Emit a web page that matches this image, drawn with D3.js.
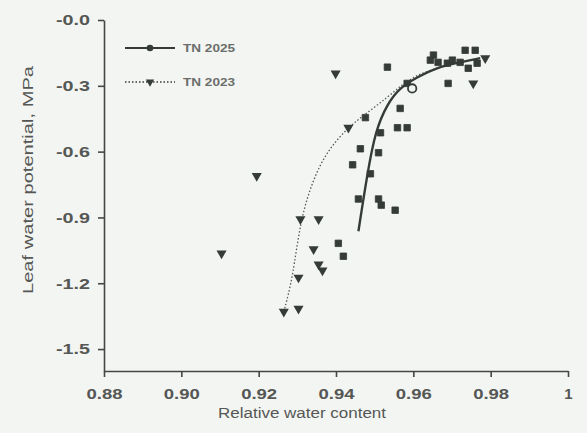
<!DOCTYPE html>
<html>
<head>
<meta charset="utf-8">
<script src="https://cdn.jsdelivr.net/npm/d3@7"></script>
<style>
  body { margin: 0; background: #f3f5f2; }
  svg { display: block; font-family: "Liberation Sans", Arial, sans-serif; }
</style>
</head>
<body>
<script>
"use strict";
// tick values and labels
const xTicks = [0.88, 0.90, 0.92, 0.94, 0.96, 0.98, 1.0]
const xTickLabels = ["0.88", "0.90", "0.92", "0.94", "0.96", "0.98", "1"]
const yTicks = [0, -0.3, -0.6, -0.9, -1.2, -1.5]
const yTickLabels = ["-0.0", "-0.3", "-0.6", "-0.9", "-1.2", "-1.5"]
const seriesNames = ["TN 2025", "TN 2023"]

// TN 2025 observations (rwc, potential)
const rwc2025 = [0.9652, 0.9664, 0.9688, 0.9701, 0.9721, 0.9734, 0.9760, 0.9742, 0.9765, 0.9644,
    0.9690, 0.9533, 0.9584, 0.9566, 0.9559, 0.9584, 0.9476, 0.9515, 0.9463, 0.9510,
    0.9443, 0.9489, 0.9458, 0.9510, 0.9517, 0.9553, 0.9406, 0.9419]
const lwp2025 = [-0.160, -0.193, -0.197, -0.183, -0.193, -0.138, -0.138, -0.220, -0.197, -0.183,
    -0.289, -0.215, -0.289, -0.403, -0.491, -0.491, -0.445, -0.514, -0.587, -0.605,
    -0.660, -0.701, -0.816, -0.816, -0.844, -0.867, -1.018, -1.077]
// open marker
const rwcOpen = [0.9597]
const lwpOpen = [-0.312]

// TN 2023 observations
const rwc2023 = [0.9399, 0.9195, 0.9104, 0.9308, 0.9355, 0.9342, 0.9355, 0.9365, 0.9303, 0.9265,
    0.9303, 0.9432, 0.9755, 0.9786]
const lwp2023 = [-0.243, -0.711, -1.064, -0.908, -0.908, -1.045, -1.114, -1.142, -1.174, -1.330,
    -1.316, -0.491, -0.289, -0.174]

// fitted curves
const fitRwc2025 = [0.9458, 0.9481, 0.9502, 0.9533, 0.9566, 0.9610, 0.9662, 0.9721, 0.9773]
const fitLwp2025 = [-0.963, -0.701, -0.504, -0.381, -0.307, -0.261, -0.215, -0.193, -0.174]
const fitRwc2023 = [0.9265, 0.9288, 0.9308, 0.9342, 0.9378, 0.9430, 0.9481, 0.9533, 0.9574, 0.9618, 0.9670, 0.9721]
const fitLwp2023 = [-1.330, -1.178, -0.908, -0.720, -0.596, -0.491, -0.422, -0.353, -0.289, -0.243, -0.215, -0.193]

const measurements = { width: 587, height: 433 }
const ink = "#353b37"
const textInk = "#555755"

const svg = d3.select("body").append("svg")
    .attr("width", measurements.width)
    .attr("height", measurements.height)

const scaleX = d3.scaleLinear().domain([0.88, 1.0]).range([104, 568])
const scaleY = d3.scaleLinear().domain([0, -1.6]).range([20, 371])

const zip = (xs, ys) => xs.map((v, i) => [v, ys[i]])

// axes
const xAxis = d3.axisBottom(scaleX)
    .tickValues(xTicks)
    .tickFormat((d, i) => xTickLabels[i])
    .tickSize(6).tickSizeOuter(0).tickPadding(11)
const yAxis = d3.axisLeft(scaleY)
    .tickValues(yTicks)
    .tickFormat((d, i) => yTickLabels[i])
    .tickSize(6).tickSizeOuter(0).tickPadding(8)

const gx = svg.append("g").attr("transform", "translate(0,371)").call(xAxis)
const gy = svg.append("g").attr("transform", "translate(104,0)").call(yAxis)
;[gx, gy].forEach(g => {
    g.selectAll("path, line").attr("stroke", "#444845").attr("stroke-width", 1.6)
    g.selectAll("text").attr("fill", textInk).attr("font-size", 15).attr("font-weight", "bold")
        .attr("font-family", "'Liberation Sans', Arial, sans-serif")
})
gx.selectAll("text").attr("textLength", function() { return this.textContent.length > 1 ? 36 : null })
    .attr("lengthAdjust", "spacingAndGlyphs")
gy.selectAll("text").attr("textLength", 34).attr("lengthAdjust", "spacingAndGlyphs")

// axis titles
svg.append("text")
    .attr("x", 302).attr("y", 418)
    .attr("text-anchor", "middle")
    .attr("font-size", 14)
    .attr("fill", textInk)
    .attr("textLength", 168).attr("lengthAdjust", "spacingAndGlyphs")
    .text("Relative water content")
svg.append("text")
    .attr("transform", "translate(33,180) rotate(-90)")
    .attr("text-anchor", "middle")
    .attr("font-size", 15)
    .attr("fill", textInk)
    .attr("textLength", 228).attr("lengthAdjust", "spacingAndGlyphs")
    .text("Leaf water potential, MPa")

// fitted lines
const line = d3.line().x(d => scaleX(d[0])).y(d => scaleY(d[1])).curve(d3.curveBasis)
svg.append("path")
    .datum(zip(fitRwc2023, fitLwp2023))
    .attr("d", line)
    .attr("fill", "none").attr("stroke", "#555a56").attr("stroke-width", 1.3)
    .attr("stroke-dasharray", "1.5,2")
svg.append("path")
    .datum(zip(fitRwc2025, fitLwp2025))
    .attr("d", line)
    .attr("fill", "none").attr("stroke", ink).attr("stroke-width", 2.4)

// markers
const square = d3.symbol().type(d3.symbolSquare).size(42)
const tri = d3.symbol().type(d3.symbolTriangle).size(44)

svg.selectAll(".p25")
    .data(zip(rwc2025, lwp2025))
    .enter().append("path")
    .attr("class", "p25")
    .attr("d", square)
    .attr("transform", d => `translate(${scaleX(d[0])},${scaleY(d[1])})`)
    .attr("fill", ink)
    .attr("stroke", ink).attr("stroke-width", 0.8).attr("stroke-linejoin", "round")

svg.selectAll(".pOpen")
    .data(zip(rwcOpen, lwpOpen))
    .enter().append("circle")
    .attr("class", "pOpen")
    .attr("cx", d => scaleX(d[0])).attr("cy", d => scaleY(d[1]))
    .attr("r", 4.2)
    .attr("fill", "#f3f5f2").attr("stroke", ink).attr("stroke-width", 1.8)

svg.selectAll(".p23")
    .data(zip(rwc2023, lwp2023))
    .enter().append("path")
    .attr("class", "p23")
    .attr("d", tri)
    .attr("transform", d => `translate(${scaleX(d[0])},${scaleY(d[1])}) rotate(180)`)
    .attr("fill", ink)

// legend
const legend = svg.append("g")
const rows = [48, 82]
legend.selectAll("line")
    .data(seriesNames)
    .enter().append("line")
    .attr("x1", 125).attr("x2", 175)
    .attr("y1", (d, i) => rows[i]).attr("y2", (d, i) => rows[i])
    .attr("stroke", ink)
    .attr("stroke-width", (d, i) => i === 0 ? 1.8 : 1.3)
    .attr("stroke-dasharray", (d, i) => i === 0 ? null : "1.5,2")
legend.append("circle").attr("cx", 150).attr("cy", rows[0]).attr("r", 3.3).attr("fill", ink)
legend.append("path").attr("d", d3.symbol().type(d3.symbolTriangle).size(30))
    .attr("transform", `translate(150,${rows[1]}) rotate(180)`).attr("fill", ink)
legend.selectAll("text")
    .data(seriesNames)
    .enter().append("text")
    .attr("x", 183).attr("y", (d, i) => rows[i] + 4)
    .attr("font-size", 10).attr("font-weight", "bold")
    .attr("fill", "#6a6d6a")
    .attr("textLength", 52).attr("lengthAdjust", "spacingAndGlyphs")
    .text(d => d)
</script>
</body>
</html>
